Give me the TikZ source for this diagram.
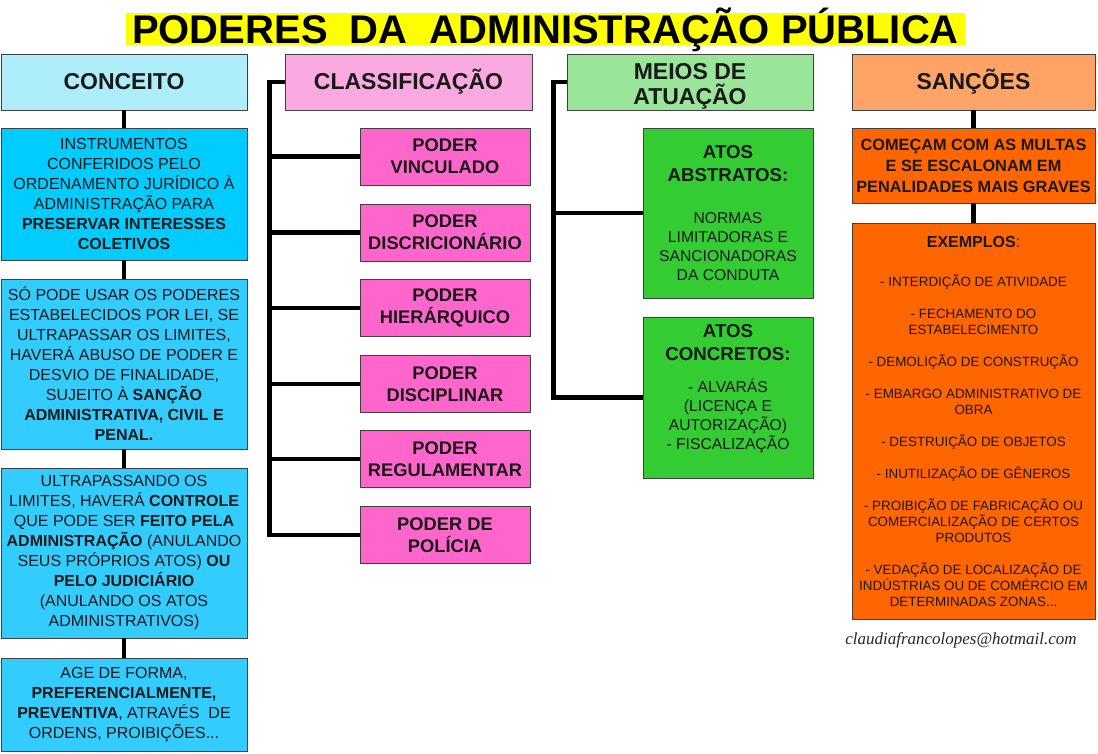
\documentclass[tikz,border=0pt]{standalone}
\usepackage{fontspec}
\setmainfont{Liberation Sans}
\newfontfamily\assinfont{Liberation Serif}

\definecolor{amarelo}{HTML}{FFFF00}
\definecolor{cabazul}{HTML}{AEEEFB}
\definecolor{cabrosa}{HTML}{FBA9E1}
\definecolor{cabverde}{HTML}{99E599}
\definecolor{cablaranja}{HTML}{FFA366}
\definecolor{azulforte}{HTML}{00CCFF}
\definecolor{azul}{HTML}{33CCFF}
\definecolor{rosa}{HTML}{FF66CC}
\definecolor{verde}{HTML}{33CC33}
\definecolor{laranja}{HTML}{FF6600}

\newcommand{\tam}[2]{\fontsize{#1}{#2}\selectfont}
\newcommand{\atotit}[1]{{\tam{18.7}{19}\bfseries #1}}

\begin{document}
\begin{tikzpicture}[x=1pt,y=-1pt,
  caixa/.style={draw=black!75,line width=0.9pt,align=center,inner sep=0pt,text=black!90},
  cabeca/.style={caixa,minimum height=56,font=\tam{23}{25}\bfseries},
  texto/.style={caixa,minimum width=246,font=\tam{16}{20}},
  poder/.style={caixa,fill=rosa,minimum width=170,minimum height=57,font=\tam{18.3}{22}\bfseries},
  ato/.style={caixa,fill=verde,minimum width=170,font=\tam{15.7}{19}},
  sancao/.style={caixa,fill=laranja,minimum width=243},
  ligacao/.style={line width=4.5pt}]
  \useasboundingbox (0,0) rectangle (1098,753);

  % 标题
  \node[fill=amarelo,minimum width=839,minimum height=32,inner sep=0pt,
        text height=28,text depth=0,font=\tam{40}{40}\bfseries]
    (titulo) at (545.5,29) {PODERES\ \ DA\ \ ADMINISTRAÇÃO PÚBLICA};

  % 表头
  \node[cabeca,fill=cabazul,minimum width=246] (conceito) at (124,82) {CONCEITO};
  \node[cabeca,fill=cabrosa,minimum width=247] (classif) at (408.5,82) {CLASSIFICAÇÃO};
  \node[cabeca,fill=cabverde,minimum width=246,text height=49] (meios) at (690,82) {MEIOS DE\\ATUAÇÃO};
  \node[cabeca,fill=cablaranja,minimum width=243] (sancoes) at (973.5,82) {SANÇÕES};

  % 概念
  \node[texto,fill=azulforte,minimum height=132] (c1) at (124,194)
    {INSTRUMENTOS\\CONFERIDOS PELO\\ORDENAMENTO JURÍDICO À\\ADMINISTRAÇÃO PARA\\
     \textbf{PRESERVAR INTERESSES}\\\textbf{COLETIVOS}};
  \node[texto,fill=azul,minimum height=170] (c2) at (124,364)
    {SÓ PODE USAR OS PODERES\\ESTABELECIDOS POR LEI, SE\\ULTRAPASSAR OS LIMITES,\\
     HAVERÁ ABUSO DE PODER E\\DESVIO DE FINALIDADE,\\SUJEITO À \textbf{SANÇÃO}\\
     \textbf{ADMINISTRATIVA, CIVIL E}\\\textbf{PENAL.}};
  \node[texto,fill=azul,minimum height=170] (c3) at (124,553)
    {ULTRAPASSANDO OS\\LIMITES, HAVERÁ \textbf{CONTROLE}\\QUE PODE SER \textbf{FEITO PELA}\\
     \textbf{ADMINISTRAÇÃO} (ANULANDO\\SEUS PRÓPRIOS ATOS) \textbf{OU}\\
     \textbf{PELO JUDICIÁRIO}\\(ANULANDO OS ATOS\\ADMINISTRATIVOS)};
  \node[texto,fill=azul,minimum height=93] (c4) at (124,704.5)
    {AGE DE FORMA,\\\textbf{PREFERENCIALMENTE,}\\\textbf{PREVENTIVA}, ATRAVÉS\ \ DE\\ORDENS, PROIBIÇÕES...};
  \draw[ligacao] (conceito.south) -- (c1.north);
  \foreach \a/\b in {c1/c2,c2/c3,c3/c4}
    \draw[ligacao] (\a.south) -- (\b.north);

  % 分类
  \foreach \i/\y/\txt in {1/156.5/{PODER\\VINCULADO},2/232.5/{PODER\\DISCRICIONÁRIO},
      3/308/{PODER\\HIERÁRQUICO},4/384/{PODER\\DISCIPLINAR},
      5/459/{PODER\\REGULAMENTAR},6/535/{PODER DE\\POLÍCIA}}
    \node[poder] (p\i) at (445,\y) {\txt};
  \draw[ligacao] (classif.west) -- ++(-15,0) coordinate (barra1) |- (p6.west);
  \foreach \i in {1,...,5}
    \draw[ligacao] (barra1 |- p\i.west) -- (p\i.west);

  % 作用方式
  \node[ato,minimum height=170] (a1) at (728,213)
    {\atotit{ATOS}\\[4pt]\atotit{ABSTRATOS:}\\[23pt]NORMAS\\LIMITADORAS E\\SANCIONADORAS\\DA CONDUTA};
  \node[ato,minimum height=161] (a2) at (728,397.5)
    {\atotit{ATOS}\\[4pt]\atotit{CONCRETOS:}\\[13pt]- ALVARÁS\\(LICENÇA E\\AUTORIZAÇÃO)\\- FISCALIZAÇÃO\\[2pt]~};
  \draw[ligacao] (meios.west) -- ++(-13,0) coordinate (barra2) |- (a2.west);
  \draw[ligacao] (barra2 |- a1.west) -- (a1.west);

  % 制裁
  \node[sancao,minimum height=75,font=\tam{16.3}{21}\bfseries] (s1) at (973.5,165.5)
    {COMEÇAM COM AS MULTAS\\E SE ESCALONAM EM\\PENALIDADES MAIS GRAVES};
  \node[sancao,minimum height=396,font=\tam{13.4}{16}] (s2) at (973.5,421)
    {{\tam{16}{16}\bfseries EXEMPLOS}{\tam{16}{16}:}\\[23pt]
     - INTERDIÇÃO DE ATIVIDADE\\[16pt]
     - FECHAMENTO DO\\ESTABELECIMENTO\\[16pt]
     - DEMOLIÇÃO DE CONSTRUÇÃO\\[16pt]
     - EMBARGO ADMINISTRATIVO DE\\OBRA\\[16pt]
     - DESTRUIÇÃO DE OBJETOS\\[16pt]
     - INUTILIZAÇÃO DE GÊNEROS\\[16pt]
     - PROIBIÇÃO DE FABRICAÇÃO OU\\COMERCIALIZAÇÃO DE CERTOS\\PRODUTOS\\[16pt]
     - VEDAÇÃO DE LOCALIZAÇÃO DE\\INDÚSTRIAS OU DE COMÉRCIO EM\\DETERMINADAS ZONAS...};
  \draw[ligacao] (sancoes.south) -- (s1.north);
  \draw[ligacao] (s1.south) -- (s2.north);

  \node[font=\assinfont\itshape\tam{17}{17},text=black!85] (assinatura) at (961,640)
    {claudiafrancolopes@hotmail.com};
\end{tikzpicture}
\end{document}
